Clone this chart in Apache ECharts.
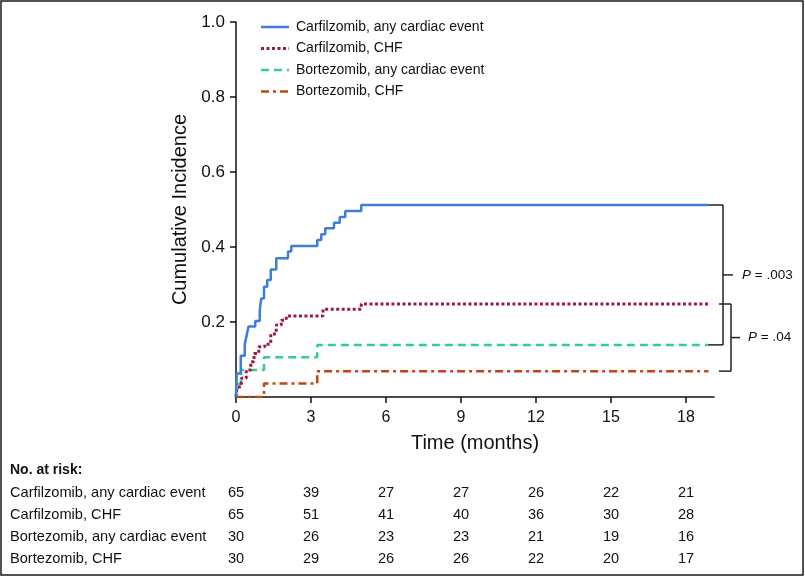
<!DOCTYPE html>
<html><head><meta charset="utf-8">
<script src="https://cdn.jsdelivr.net/npm/echarts@6/dist/echarts.min.js"></script>
<style>html,body{margin:0;padding:0;background:#fff}#c{width:805px;height:577px}</style>
</head><body><div id="c"></div>
<script>
// ---- data ----
const seriesNames = ['Carfilzomib, any cardiac event','Carfilzomib, CHF','Bortezomib, any cardiac event','Bortezomib, CHF'];
const carfAnyT = [0,0.03,0.19,0.35,0.43,0.5,0.77,0.95,1.01,1.12,1.25,1.39,1.61,2.08,2.21,3.25,3.41,3.57,3.92,4.15,4.37,5.01,18.9];
const carfAnyV = [0,0.063,0.11,0.141,0.165,0.188,0.203,0.232,0.263,0.294,0.312,0.34,0.37,0.388,0.403,0.419,0.434,0.45,0.465,0.48,0.496,0.512,0.512];
const carfChfT = [0,0.04,0.21,0.41,0.59,0.72,0.91,1.15,1.39,1.61,1.81,2.01,3.48,5.01,18.9];
const carfChfV = [0,0.027,0.05,0.072,0.094,0.116,0.134,0.141,0.168,0.192,0.205,0.216,0.234,0.248,0.248];
const bortAnyT = [0,0.04,0.2,1.12,3.25,18.9];
const bortAnyV = [0,0.035,0.072,0.106,0.139,0.139];
const bortChfT = [0,1.12,3.25,18.9];
const bortChfV = [0,0.036,0.069,0.069];
const xTicks = [0,3,6,9,12,15,18];
const yTicks = [0.2,0.4,0.6,0.8,1.0];
const riskLabels = ['Carfilzomib, any cardiac event','Carfilzomib, CHF','Bortezomib, any cardiac event','Bortezomib, CHF'];
const riskCarfAny = [65,39,27,27,26,22,21];
const riskCarfChf = [65,51,41,40,36,30,28];
const riskBortAny = [30,26,23,23,21,19,16];
const riskBortChf = [30,29,26,26,22,20,17];
const pLabels = ['.003','.04'];

const colors = ['#3d7fd8','#9c1a40','#33cf8a','#c0450f'];
const zip = (t,v)=>t.map((x,i)=>[x,v[i]]);
const font = 'Liberation Sans, Arial, sans-serif';

const chart = echarts.init(document.getElementById('c'));
const lineStyles = [
  {width:2.5, type:'solid'},
  {width:3, type:[3,2.5]},
  {width:2.5, type:[8,5]},
  {width:2.5, type:[8,4,3,4]}
];
const datas = [zip(carfAnyT,carfAnyV),zip(carfChfT,carfChfV),zip(bortAnyT,bortAnyV),zip(bortChfT,bortChfV)];
chart.setOption({
  animation:false,
  grid:{left:236, top:22, right:91, bottom:180},
  xAxis:{type:'value', min:0, max:19.12, interval:3,
    name:'Time (months)', nameLocation:'middle', nameGap:36,
    nameTextStyle:{fontSize:20, fontFamily:font, color:'#111'},
    axisLine:{lineStyle:{color:'#111', width:1.5}},
    axisTick:{customValues:xTicks, length:6, lineStyle:{color:'#111', width:1.5}},
    axisLabel:{customValues:xTicks, margin:13, fontSize:16, fontFamily:font, color:'#111'},
    splitLine:{show:false}},
  yAxis:{type:'value', min:0, max:1, interval:0.2,
    name:'Cumulative Incidence', nameLocation:'middle', nameGap:42,
    nameTextStyle:{fontSize:20, fontFamily:font, color:'#111'},
    axisLine:{show:true, lineStyle:{color:'#111', width:1.5}},
    axisTick:{show:true, customValues:yTicks, length:6, lineStyle:{color:'#111', width:1.5}},
    axisLabel:{customValues:yTicks, margin:11, fontSize:17, fontFamily:font, color:'#111',
      formatter:v=>v.toFixed(1)},
    splitLine:{show:false}},
  series:seriesNames.map((n,i)=>({
    name:n, type:'line', step:'end', showSymbol:false, symbol:'none',
    data:datas[i], color:colors[i],
    lineStyle:Object.assign({color:colors[i], cap:'butt'}, lineStyles[i]),
    z: 10-i
  }))
});

// ---- annotations ----
const px = x=>chart.convertToPixel({xAxisIndex:0},x);
const py = y=>chart.convertToPixel({yAxisIndex:0},y);
const g = [];
const ln = (x1,y1,x2,y2)=>g.push({type:'line', shape:{x1,y1,x2,y2}, style:{stroke:'#222', lineWidth:1.5}});
const yb = py(carfAnyV[carfAnyV.length-1]), yg = py(bortAnyV[bortAnyV.length-1]);
const yr = py(carfChfV[carfChfV.length-1]), yo = py(bortChfV[bortChfV.length-1]);
// bracket 1
ln(708,yb,723,yb); ln(723,yb,723,yg); ln(708,yg,723,yg);
const m1=(yb+yg)/2; ln(723,m1,733,m1);
// bracket 2
ln(719,yr,731,yr); ln(731,yr,731,yo); ln(719,yo,731,yo);
const m2=(yr+yo)/2; ln(731,m2,740,m2);
const pText=(x,y,v)=>g.push({type:'text', x, y, style:{text:'{i|P} = '+v, rich:{i:{fontStyle:'italic', fontSize:13.5, fontFamily:font, fill:'#111'}},
  fontSize:13.5, fontFamily:font, fill:'#111', verticalAlign:'middle'}});
pText(742,m1,pLabels[0]); pText(748,m2,pLabels[1]);
// legend
seriesNames.forEach((n,i)=>{
  const y=27+i*21.5;
  g.push({type:'line', shape:{x1:261,y1:y,x2:289,y2:y}, style:{stroke:colors[i], lineWidth:lineStyles[i].width, lineDash:Array.isArray(lineStyles[i].type)?lineStyles[i].type:null}});
  g.push({type:'text', x:296, y, style:{text:n, font:'14px '+font, fill:'#111', verticalAlign:'middle'}});
});
// risk table
g.push({type:'text', x:10, y:470, style:{text:'No. at risk:', font:'bold 14px '+font, fill:'#111', verticalAlign:'middle'}});
const rows=[riskCarfAny,riskCarfChf,riskBortAny,riskBortChf];
rows.forEach((r,i)=>{
  const y=493+i*22;
  g.push({type:'text', x:10, y, style:{text:riskLabels[i], font:'14.6px '+font, fill:'#111', verticalAlign:'middle'}});
  r.forEach((v,j)=>g.push({type:'text', x:px(xTicks[j]), y, style:{text:String(v), font:'14.6px '+font, fill:'#111', align:'center', verticalAlign:'middle'}}));
});
// border
g.push({type:'rect', shape:{x:1,y:1,width:802,height:574}, style:{fill:'none', stroke:'#1a1a1a', lineWidth:1.5}});
chart.setOption({graphic:g});
</script></body></html>
